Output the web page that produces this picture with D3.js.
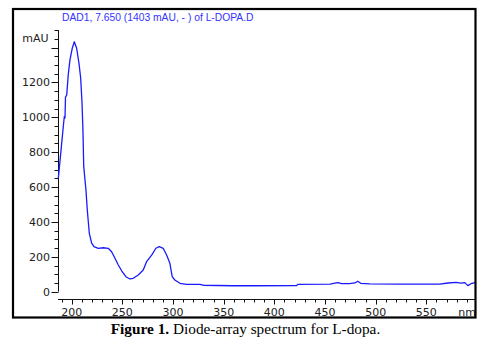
<!DOCTYPE html>
<html>
<head>
<meta charset="utf-8">
<script src="https://cdn.jsdelivr.net/npm/d3@7"></script>
<style>
  html, body { margin: 0; padding: 0; background: #fff; }
  svg { display: block; }
  .lbl { font-family: "DejaVu Sans", Verdana, sans-serif; font-size: 11px; fill: #222; }
</style>
</head>
<body>
<svg id="chart" width="488" height="337"></svg>
<script>
// Diode-array absorbance spectrum: wavelength (nm) vs absorbance (mAU)
const wavelength = [186.8, 189.5, 191.7, 192.7, 193.4, 193.9, 195.1, 196.6, 198.3, 200.6,
  202.6, 204.9, 207.2, 208.9, 210.2, 211.1, 211.9, 214.1, 215.4, 217.4,
  219.7, 222.0, 226.2, 231.2, 236.1, 239.4, 242.7, 246.0, 249.3, 253.5,
  257.5, 260.7, 265.7, 270.6, 273.9, 278.9, 283.1, 286.4, 290.3, 293.7,
  296.9, 299.2, 301.8, 306.8, 313.4, 326.5, 329.7, 359.0, 376.0, 422.0,
  423.0, 455.0, 458.5, 462.6, 466.5, 474.0, 479.4, 482.3, 485.2, 494.0,
  524.0, 563.0, 571.4, 579.3, 584.0, 588.0, 591.0, 594.0, 598.0];
const absorbance = [650, 812, 946, 1003, 996, 1116, 1128, 1243, 1329, 1396,
  1433, 1396, 1310, 1224, 1082, 928, 717, 583, 468, 335,
  278, 258, 249, 252, 249, 229, 192, 153, 120, 86,
  73, 77, 96, 124, 172, 210, 249, 258, 249, 210,
  163, 86, 67, 48, 42, 42, 37, 34, 34, 35,
  42, 44, 48, 52, 46, 46, 50, 60, 48, 45,
  44, 44, 50, 53, 49, 52, 35, 46, 52];

const xMajorTicks = [200, 250, 300, 350, 400, 450, 500, 550];
const yMajorTicks = [0, 200, 400, 600, 800, 1000, 1200, 1400];
const yTickLabels = ["0", "200", "400", "600", "800", "1000", "1200", ""];

const svg = d3.select("#chart");

const x = d3.scaleLinear().domain([186.5, 598]).range([58, 475]);
const y = d3.scaleLinear().domain([0, 1500]).range([291.7, 30.1]);

// Y axis: major ticks with labels, minor ticks every 50 mAU
const yAxis = svg.append("g").attr("transform", "translate(58.5,0)");
yAxis.append("line")
  .attr("x1", 0).attr("x2", 0)
  .attr("y1", y(0)).attr("y2", y(1500))
  .attr("stroke", "#111").attr("stroke-width", 1);
const yMinor = d3.range(0, 1501, 50).filter(v => v % 200 !== 0);
yAxis.selectAll("line.minor").data(yMinor).join("line")
  .attr("class", "minor")
  .attr("x1", -4).attr("x2", 0)
  .attr("y1", d => Math.round(y(d)) + 0.5).attr("y2", d => Math.round(y(d)) + 0.5)
  .attr("stroke", "#111");
yAxis.selectAll("line.major").data(yMajorTicks).join("line")
  .attr("class", "major")
  .attr("x1", -7).attr("x2", 0)
  .attr("y1", d => Math.round(y(d)) + 0.5).attr("y2", d => Math.round(y(d)) + 0.5)
  .attr("stroke", "#111");
yAxis.selectAll("text").data(yMajorTicks).join("text")
  .attr("class", "lbl")
  .attr("x", -8.5)
  .attr("y", d => y(d))
  .attr("dy", "0.36em")
  .attr("text-anchor", "end")
  .text((d, i) => yTickLabels[i]);
svg.append("text").attr("class", "lbl")
  .attr("x", 48.5).attr("y", 42)
  .attr("text-anchor", "end")
  .text("mAU");

// X axis: major ticks every 50 nm, minor every 10 nm
const xAxis = svg.append("g").attr("transform", "translate(0,299.5)");
xAxis.append("line")
  .attr("x1", 58).attr("x2", 475)
  .attr("stroke", "#111");
const xMinor = d3.range(190, 598, 10).filter(v => v % 50 !== 0);
xAxis.selectAll("line.minor").data(xMinor).join("line")
  .attr("class", "minor")
  .attr("x1", d => Math.round(x(d)) + 0.5).attr("x2", d => Math.round(x(d)) + 0.5)
  .attr("y1", 0).attr("y2", 3)
  .attr("stroke", "#111");
xAxis.selectAll("line.major").data(xMajorTicks).join("line")
  .attr("class", "major")
  .attr("x1", d => Math.round(x(d)) + 0.5).attr("x2", d => Math.round(x(d)) + 0.5)
  .attr("y1", 0).attr("y2", 5)
  .attr("stroke", "#111");
xAxis.selectAll("text").data(xMajorTicks).join("text")
  .attr("class", "lbl")
  .attr("x", d => x(d))
  .attr("y", 16.3)
  .attr("text-anchor", "middle")
  .text(d => d);
xAxis.append("text").attr("class", "lbl")
  .attr("x", 476).attr("y", 16.3)
  .attr("text-anchor", "end")
  .text("nm");

// Spectrum trace
const line = d3.line()
  .x((d, i) => x(wavelength[i]))
  .y(d => y(d));
svg.append("path")
  .datum(absorbance)
  .attr("d", line)
  .attr("fill", "none")
  .attr("stroke", "#1a1aff")
  .attr("stroke-width", 1.3)
  .attr("stroke-linejoin", "round");

// Header
svg.append("text")
  .attr("x", 62).attr("y", 21)
  .attr("font-family", "Liberation Sans, Arial, sans-serif")
  .attr("font-size", 10.3)
  .attr("fill", "#3333ff")
  .text("DAD1, 7.650 (1403 mAU, - ) of L-DOPA.D");

// Outer frame
svg.append("rect")
  .attr("x", 13).attr("y", 9)
  .attr("width", 462.5).attr("height", 308.5)
  .attr("fill", "none")
  .attr("stroke", "#000")
  .attr("stroke-width", 2.2);

// Caption
const cap = svg.append("text")
  .attr("x", 245.5).attr("y", 333.5)
  .attr("text-anchor", "middle")
  .attr("font-family", "Liberation Serif, 'Times New Roman', serif")
  .attr("font-size", 15.3)
  .attr("fill", "#000");
cap.append("tspan").attr("font-weight", "bold").text("Figure 1.");
cap.append("tspan").text(" Diode-array spectrum for L-dopa.");
</script>
</body>
</html>
